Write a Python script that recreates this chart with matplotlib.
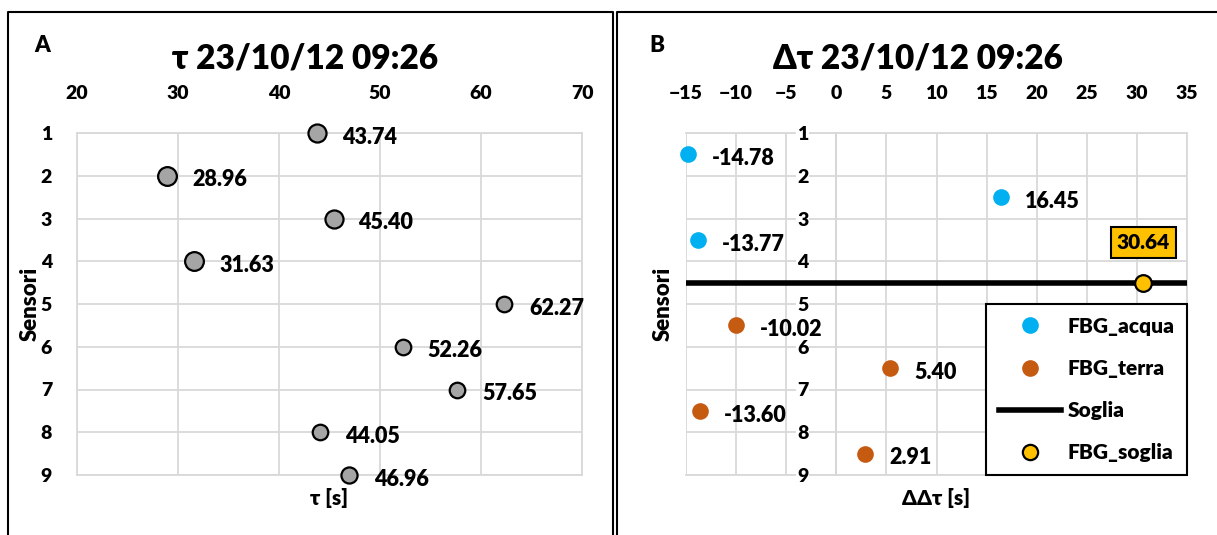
import numpy as np
import matplotlib.pyplot as plt
import matplotlib.lines as mlines

plt.rcParams['font.family'] = ['Lato', 'DejaVu Sans']
plt.rcParams['font.weight'] = 'bold'

# panel A data
sensori = [1, 2, 3, 4, 5, 6, 7, 8, 9]
tau = [43.74, 28.96, 45.40, 31.63, 62.27, 52.26, 57.65, 44.05, 46.96]
tau_ms = [13, 13.5, 13, 13.5, 11.2, 11.2, 11.2, 11.2, 11.6]

# panel B data
acqua_y = [1.5, 2.5, 3.5]
acqua_dt = [-14.78, 16.45, -13.77]
terra_y = [5.5, 6.5, 7.5, 8.5]
terra_dt = [-10.02, 5.40, -13.60, 2.91]
soglia_y = 4.5
soglia_dt = 30.64

grid_c = '#d9d9d9'
fs_tick = 14
fs_lab = 15.5
W, H = 1217.0, 535.0

fig = plt.figure(figsize=(12.17, 5.35), dpi=100)

def px(x0, y0, x1, y1):
    return [x0 / W, 1 - y1 / H, (x1 - x0) / W, (y1 - y0) / H]

axA = fig.add_axes(px(77, 133, 582, 475))
axB = fig.add_axes(px(686, 133, 1187, 475))

for ax in (axA, axB):
    ax.set_ylim(9, 1)
    ax.set_yticks(sensori)
    ax.xaxis.tick_top()
    ax.tick_params(axis='x', length=0, labelsize=fs_tick, pad=22)
    ax.grid(True, color=grid_c, linewidth=1.3)
    ax.set_axisbelow(True)
    for s in ax.spines.values():
        s.set_color(grid_c)
        s.set_linewidth(1.3)
        s.set_zorder(0.3)

axA.tick_params(axis='y', length=0, labelsize=fs_tick, pad=18)
axB.tick_params(axis='y', length=0, labelsize=fs_tick, pad=20)

# ---- panel A
axA.set_xlim(20, 70)
axA.set_xticks([20, 30, 40, 50, 60, 70])
for x, y, m in zip(tau, sensori, tau_ms):
    axA.plot(x, y, 'o', ms=m, mfc='#a5a5a5', mec='black', mew=1.6, zorder=3, clip_on=False)
    axA.annotate('%.2f' % x, (x, y), xytext=(18, -3), textcoords='offset points',
                 ha='left', va='center', fontsize=fs_lab, fontweight='heavy')
axA.set_ylabel('Sensori', fontsize=16, fontweight='heavy')
axA.set_xlabel('τ [s]', fontsize=15, fontweight='heavy', labelpad=9)
axA.yaxis.set_label_coords(-0.072, 0.5)

# ---- panel B
axB.set_xlim(-15, 35)
axB.set_xticks(np.arange(-15, 36, 5))
axB.spines['left'].set_position(('data', 0))
axB.spines['left'].set_color('#bfbfbf')
axB.axhline(soglia_y, color='black', lw=4, zorder=2, solid_capstyle='butt')
axB.plot(acqua_dt, acqua_y, 'o', ms=12, color='#00b0f0', mew=0, zorder=3, clip_on=False)
axB.plot(terra_dt, terra_y, 'o', ms=12, color='#c55a11', mew=0, zorder=3)
axB.plot(soglia_dt, soglia_y, 'o', ms=12, mfc='#ffc000', mec='black', mew=1.6, zorder=4)
for x, y in zip(acqua_dt + terra_dt, acqua_y + terra_y):
    axB.annotate('%.2f' % x, (x, y), xytext=(17, -3), textcoords='offset points',
                 ha='left', va='center', fontsize=fs_lab, fontweight='heavy')
axB.annotate('%.2f' % soglia_dt, (soglia_dt, soglia_y), xytext=(0, 29),
             textcoords='offset points', ha='center', va='center',
             fontsize=15, fontweight='heavy',
             bbox=dict(boxstyle='square,pad=0.28', fc='#ffc000', ec='black', lw=1.5))
axB.set_xlabel('ΔΔτ [s]', fontsize=15, fontweight='heavy', labelpad=9)
axB.set_ylabel('Sensori', fontsize=16, fontweight='heavy')
axB.yaxis.set_label_coords(-0.025, 0.5)
for lbl in axB.get_yticklabels():
    lbl.set_bbox(dict(fc='white', ec='none', pad=0.5))

for ax in (axA, axB):
    for lbl in ax.get_xticklabels() + ax.get_yticklabels():
        lbl.set_fontweight('heavy')

h1 = mlines.Line2D([], [], ls='none', marker='o', ms=12, color='#00b0f0', mew=0, label='FBG_acqua')
h2 = mlines.Line2D([], [], ls='none', marker='o', ms=12, color='#c55a11', mew=0, label='FBG_terra')
h3 = mlines.Line2D([], [], color='black', lw=4, label='Soglia')
h4 = mlines.Line2D([], [], ls='none', marker='o', ms=11, mfc='#ffc000', mec='black', mew=1.6, label='FBG_soglia')
leg = axB.legend(handles=[h1, h2, h3, h4], loc='lower right', bbox_to_anchor=(1.0, 0.0),
                 borderaxespad=0, fancybox=False, edgecolor='black', framealpha=1,
                 prop={'size': 15, 'weight': 'heavy'}, labelspacing=1.12,
                 handlelength=3.0, handletextpad=0.3, borderpad=0.6)
leg.get_frame().set_linewidth(1.5)

# titles and panel letters
fig.text(305 / W, 1 - 58 / H, 'τ 23/10/12 09:26', ha='center', va='center',
         fontsize=24, fontweight='heavy')
fig.text(918 / W, 1 - 58 / H, 'Δτ 23/10/12 09:26', ha='center', va='center',
         fontsize=24, fontweight='heavy')
fig.text(42 / W, 1 - 45 / H, 'A', ha='center', va='center', fontsize=16, fontweight='heavy')
fig.text(657 / W, 1 - 45 / H, 'B', ha='center', va='center', fontsize=16, fontweight='heavy')

# panel borders
def fline(xs, ys):
    fig.add_artist(mlines.Line2D([x / W for x in xs], [1 - y / H for y in ys],
                                 color='black', lw=1.5, transform=fig.transFigure))
fline([8, 8, 613, 613], [535, 12, 12, 535])
fline([617, 617, 1217], [535, 12, 12])

fig.savefig('out.png', dpi=100)
